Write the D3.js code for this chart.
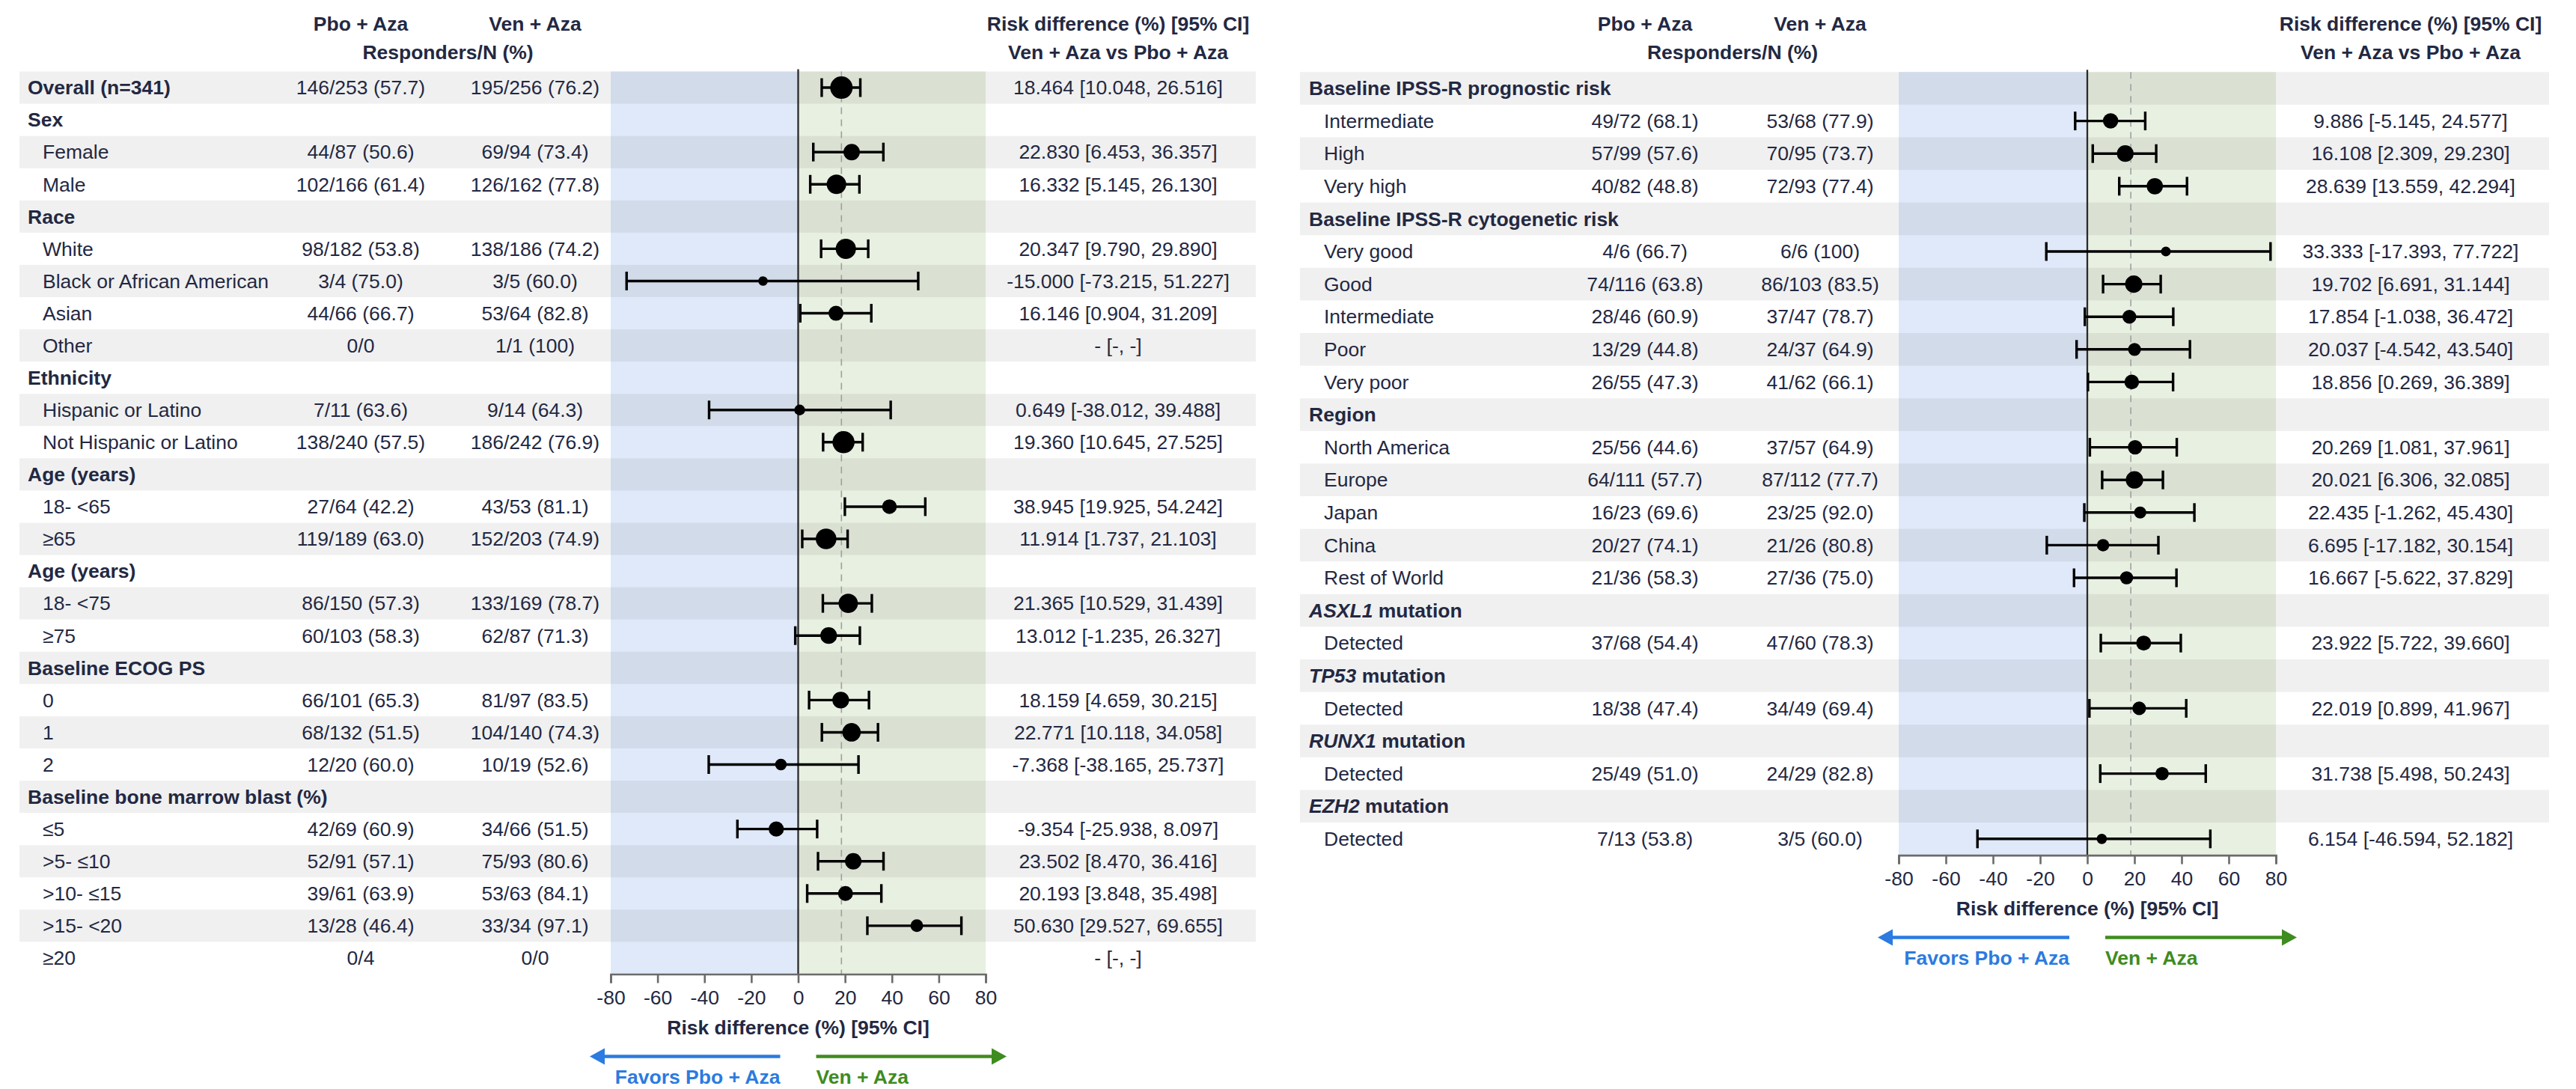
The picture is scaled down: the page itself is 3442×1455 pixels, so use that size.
<!DOCTYPE html>
<html><head><meta charset="utf-8">
<script src="https://cdn.jsdelivr.net/npm/d3@7"></script>
<style>
body{margin:0;background:#fff}
svg{display:block}
text{font-family:"Liberation Sans", Arial, sans-serif}
</style>
</head><body>
<svg id="chart" width="3442" height="1455"></svg>
<script>
// ---------------- DATA ----------------
const leftLabels = ["Overall (n=341)","Sex","Female","Male","Race","White","Black or African American","Asian","Other",
  "Ethnicity","Hispanic or Latino","Not Hispanic or Latino","Age (years)","18- <65","\u226565","Age (years)","18- <75","\u226575",
  "Baseline ECOG PS","0","1","2","Baseline bone marrow blast (%)","\u22645",">5- \u226410",">10- \u226415",">15- <20","\u226520"];
const leftHeader = [1,1,0,0,1,0,0,0,0,1,0,0,1,0,0,1,0,0,1,0,0,0,1,0,0,0,0,0];
const leftPbo = ["146/253 (57.7)","","44/87 (50.6)","102/166 (61.4)","","98/182 (53.8)","3/4 (75.0)","44/66 (66.7)","0/0",
  "","7/11 (63.6)","138/240 (57.5)","","27/64 (42.2)","119/189 (63.0)","","86/150 (57.3)","60/103 (58.3)",
  "","66/101 (65.3)","68/132 (51.5)","12/20 (60.0)","","42/69 (60.9)","52/91 (57.1)","39/61 (63.9)","13/28 (46.4)","0/4"];
const leftVen = ["195/256 (76.2)","","69/94 (73.4)","126/162 (77.8)","","138/186 (74.2)","3/5 (60.0)","53/64 (82.8)","1/1 (100)",
  "","9/14 (64.3)","186/242 (76.9)","","43/53 (81.1)","152/203 (74.9)","","133/169 (78.7)","62/87 (71.3)",
  "","81/97 (83.5)","104/140 (74.3)","10/19 (52.6)","","34/66 (51.5)","75/93 (80.6)","53/63 (84.1)","33/34 (97.1)","0/0"];
const leftEst = [18.464,null,22.830,16.332,null,20.347,-15.000,16.146,"-",null,0.649,19.360,null,38.945,11.914,null,21.365,13.012,
  null,18.159,22.771,-7.368,null,-9.354,23.502,20.193,50.630,"-"];
const leftLo = [10.048,null,6.453,5.145,null,9.790,-73.215,0.904,null,null,-38.012,10.645,null,19.925,1.737,null,10.529,-1.235,
  null,4.659,10.118,-38.165,null,-25.938,8.470,3.848,29.527,null];
const leftHi = [26.516,null,36.357,26.130,null,29.890,51.227,31.209,null,null,39.488,27.525,null,54.242,21.103,null,31.439,26.327,
  null,30.215,34.058,25.737,null,8.097,36.416,35.498,69.655,null];

const rightLabels = ["Baseline IPSS-R prognostic risk","Intermediate","High","Very high","Baseline IPSS-R cytogenetic risk",
  "Very good","Good","Intermediate","Poor","Very poor","Region","North America","Europe","Japan","China","Rest of World",
  "ASXL1 mutation","Detected","TP53 mutation","Detected","RUNX1 mutation","Detected","EZH2 mutation","Detected"];
const rightHeader = [1,0,0,0,1,0,0,0,0,0,1,0,0,0,0,0,1,0,1,0,1,0,1,0];
const rightPbo = ["","49/72 (68.1)","57/99 (57.6)","40/82 (48.8)","","4/6 (66.7)","74/116 (63.8)","28/46 (60.9)","13/29 (44.8)",
  "26/55 (47.3)","","25/56 (44.6)","64/111 (57.7)","16/23 (69.6)","20/27 (74.1)","21/36 (58.3)","","37/68 (54.4)","",
  "18/38 (47.4)","","25/49 (51.0)","","7/13 (53.8)"];
const rightVen = ["","53/68 (77.9)","70/95 (73.7)","72/93 (77.4)","","6/6 (100)","86/103 (83.5)","37/47 (78.7)","24/37 (64.9)",
  "41/62 (66.1)","","37/57 (64.9)","87/112 (77.7)","23/25 (92.0)","21/26 (80.8)","27/36 (75.0)","","47/60 (78.3)","",
  "34/49 (69.4)","","24/29 (82.8)","","3/5 (60.0)"];
const rightEst = [null,9.886,16.108,28.639,null,33.333,19.702,17.854,20.037,18.856,null,20.269,20.021,22.435,6.695,16.667,
  null,23.922,null,22.019,null,31.738,null,6.154];
const rightLo = [null,-5.145,2.309,13.559,null,-17.393,6.691,-1.038,-4.542,0.269,null,1.081,6.306,-1.262,-17.182,-5.622,
  null,5.722,null,0.899,null,5.498,null,-46.594];
const rightHi = [null,24.577,29.230,42.294,null,77.722,31.144,36.472,43.540,36.389,null,37.961,32.085,45.430,30.154,37.829,
  null,39.660,null,41.967,null,50.243,null,52.182];

const axisTicks = [-80,-60,-40,-20,0,20,40,60,80];
const colHeads = ["Pbo + Aza","Ven + Aza","Responders/N (%)","Risk difference (%) [95% CI]","Ven + Aza vs Pbo + Aza"];
const axisTitle = "Risk difference (%) [95% CI]";
const favorTexts = ["Favors Pbo + Aza","Ven + Aza"];
const italicGenes = ["ASXL1","TP53","RUNX1","EZH2"];

// ---------------- STYLE ----------------
const TEXT = "#232842";
const BLUE_BG = "#dfe9f9", GREEN_BG = "#e8f0e1";
const STRIPE = "rgba(0,0,0,0.058)";
const BLUE = "#2b7be0", GREEN = "#3e8c1f";
const FS = 26.5;

const svg = d3.select("#chart");

function totalN(a, b){
  const f = s => { const m = /^\d+\/(\d+)/.exec(s); return m ? +m[1] : 0; };
  return f(a) + f(b);
}
const rScale = d3.scaleLinear().domain([0, Math.sqrt(509)]).range([5, 15]);

function drawPanel(cfg, d){
  const g = svg.append("g");
  const n = d.labels.length;
  const y = d3.scaleBand().domain(d3.range(n)).range([cfg.rowTop, cfg.rowTop + n*cfg.rowH]);
  const bw = y.bandwidth();
  const cy = i => y(i) + bw/2;
  const x = d3.scaleLinear().domain([-80,80]).range([cfg.plotX0, cfg.plotX1]);
  const axisY = cfg.rowTop + n*cfg.rowH;

  // backgrounds
  g.append("rect").attr("x", x(-80)).attr("y", cfg.rowTop).attr("width", x(0)-x(-80)).attr("height", axisY-cfg.rowTop).attr("fill", BLUE_BG);
  g.append("rect").attr("x", x(0)).attr("y", cfg.rowTop).attr("width", x(80)-x(0)).attr("height", axisY-cfg.rowTop).attr("fill", GREEN_BG);
  // stripes
  g.selectAll(".stripe").data(d3.range(0, n, 2)).join("rect")
    .attr("x", cfg.tableX0).attr("y", i => y(i)).attr("width", cfg.stripeX1 - cfg.tableX0).attr("height", bw)
    .attr("fill", STRIPE);

  // reference lines
  g.append("line").attr("x1", x(leftEst[0])).attr("x2", x(leftEst[0])).attr("y1", cfg.rowTop).attr("y2", axisY)
    .attr("stroke", "#a0a0a0").attr("stroke-width", 1.6).attr("stroke-dasharray", "9,7");
  g.append("line").attr("x1", x(0)).attr("x2", x(0)).attr("y1", cfg.rowTop - 3).attr("y2", axisY)
    .attr("stroke", "#2a2a2a").attr("stroke-width", 2.3);

  // column headers
  const hd = g.append("g").attr("fill", TEXT).attr("font-weight", "bold").attr("font-size", FS).attr("text-anchor", "middle");
  hd.append("text").attr("x", cfg.pboX).attr("y", cfg.head1).attr("dy", "0.35em").text(colHeads[0]);
  hd.append("text").attr("x", cfg.venX).attr("y", cfg.head1).attr("dy", "0.35em").text(colHeads[1]);
  hd.append("text").attr("x", (cfg.pboX + cfg.venX)/2).attr("y", cfg.head2).attr("dy", "0.35em").text(colHeads[2]);
  hd.append("text").attr("x", cfg.ciX).attr("y", cfg.head1).attr("dy", "0.35em").text(colHeads[3]);
  hd.append("text").attr("x", cfg.ciX).attr("y", cfg.head2).attr("dy", "0.35em").text(colHeads[4]);

  // row labels
  const lab = g.append("g").attr("fill", TEXT).attr("font-size", FS);
  d.labels.forEach((s, i) => {
    const t = lab.append("text").attr("y", cy(i)).attr("dy", "0.35em")
      .attr("x", d.header[i] ? cfg.boldX : cfg.subX)
      .attr("font-weight", d.header[i] ? "bold" : "normal");
    const first = s.split(" ")[0];
    if (d.header[i] && italicGenes.includes(first)) {
      t.append("tspan").attr("font-style", "italic").text(first);
      t.append("tspan").text(s.slice(first.length));
    } else t.text(s);
  });

  // responder columns
  const col = g.append("g").attr("fill", TEXT).attr("font-size", FS).attr("text-anchor", "middle");
  d.pbo.forEach((s, i) => { if (s) col.append("text").attr("x", cfg.pboX).attr("y", cy(i)).attr("dy", "0.35em").text(s); });
  d.ven.forEach((s, i) => { if (s) col.append("text").attr("x", cfg.venX).attr("y", cy(i)).attr("dy", "0.35em").text(s); });

  // CI text
  const f3 = v => v.toFixed(3);
  d.est.forEach((e, i) => {
    if (e === null) return;
    const s = (e === "-") ? "- [-, -]" : `${f3(e)} [${f3(d.lo[i])}, ${f3(d.hi[i])}]`;
    col.append("text").attr("x", cfg.ciX).attr("y", cy(i)).attr("dy", "0.35em").text(s);
  });

  // error bars and markers
  const idx = d3.range(n).filter(i => typeof d.est[i] === "number");
  const eb = g.append("g").attr("stroke", "#000").attr("stroke-width", 3.4);
  idx.forEach(i => {
    eb.append("line").attr("x1", x(d.lo[i])).attr("x2", x(d.hi[i])).attr("y1", cy(i)).attr("y2", cy(i));
    eb.append("line").attr("x1", x(d.lo[i])).attr("x2", x(d.lo[i])).attr("y1", cy(i)-12.5).attr("y2", cy(i)+12.5);
    eb.append("line").attr("x1", x(d.hi[i])).attr("x2", x(d.hi[i])).attr("y1", cy(i)-12.5).attr("y2", cy(i)+12.5);
  });
  g.append("g").selectAll("circle").data(idx).join("circle")
    .attr("cx", i => x(d.est[i])).attr("cy", i => cy(i))
    .attr("r", i => rScale(Math.sqrt(totalN(d.pbo[i], d.ven[i]))))
    .attr("fill", "#000");

  // axis
  const ax = g.append("g").attr("transform", `translate(0,${axisY})`)
    .call(d3.axisBottom(x).tickValues(axisTicks).tickSize(12).tickSizeOuter(12).tickPadding(10).tickFormat(v => String(v)));
  ax.select(".domain").attr("stroke", "#6b6b6b").attr("stroke-width", 2.6);
  ax.selectAll(".tick line").attr("stroke", "#6b6b6b").attr("stroke-width", 2.6);
  ax.selectAll(".tick text").attr("fill", TEXT).attr("font-size", FS).attr("font-family", '"Liberation Sans", Arial, sans-serif');

  g.append("text").attr("x", x(0)).attr("y", axisY + 71).attr("dy", "0.35em").attr("text-anchor", "middle")
    .attr("font-weight", "bold").attr("font-size", FS).attr("fill", TEXT).text(axisTitle);

  // favour arrows
  const ay = axisY + 110, head = 20, hh = 11;
  const lt = x(-80) - 28, le = x(0) - 24, rs = x(0) + 24, rt = x(80) + 28;
  g.append("line").attr("x1", lt + head - 2).attr("x2", le).attr("y1", ay).attr("y2", ay).attr("stroke", BLUE).attr("stroke-width", 4.5);
  g.append("path").attr("d", `M${lt},${ay} L${lt+head},${ay-hh} L${lt+head},${ay+hh} Z`).attr("fill", BLUE);
  g.append("line").attr("x1", rs).attr("x2", rt - head + 2).attr("y1", ay).attr("y2", ay).attr("stroke", GREEN).attr("stroke-width", 4.5);
  g.append("path").attr("d", `M${rt},${ay} L${rt-head},${ay-hh} L${rt-head},${ay+hh} Z`).attr("fill", GREEN);
  g.append("text").attr("x", le).attr("y", ay + 27).attr("dy", "0.35em").attr("text-anchor", "end")
    .attr("font-weight", "bold").attr("font-size", FS).attr("fill", BLUE).text(favorTexts[0]);
  g.append("text").attr("x", rs).attr("y", ay + 27).attr("dy", "0.35em").attr("text-anchor", "start")
    .attr("font-weight", "bold").attr("font-size", FS).attr("fill", GREEN).text(favorTexts[1]);
}

drawPanel(
  {tableX0: 26, stripeX1: 1678, boldX: 37, subX: 57, pboX: 482, venX: 715, plotX0: 816, plotX1: 1317, ciX: 1494,
   rowTop: 95.5, rowH: 43.07, head1: 32, head2: 70},
  {labels: leftLabels, header: leftHeader, pbo: leftPbo, ven: leftVen, est: leftEst, lo: leftLo, hi: leftHi}
);
drawPanel(
  {tableX0: 1737, stripeX1: 3406, boldX: 1749, subX: 1769, pboX: 2198, venX: 2432, plotX0: 2537, plotX1: 3041, ciX: 3221,
   rowTop: 96.2, rowH: 43.6, head1: 32, head2: 70},
  {labels: rightLabels, header: rightHeader, pbo: rightPbo, ven: rightVen, est: rightEst, lo: rightLo, hi: rightHi}
);
</script>
</body></html>
